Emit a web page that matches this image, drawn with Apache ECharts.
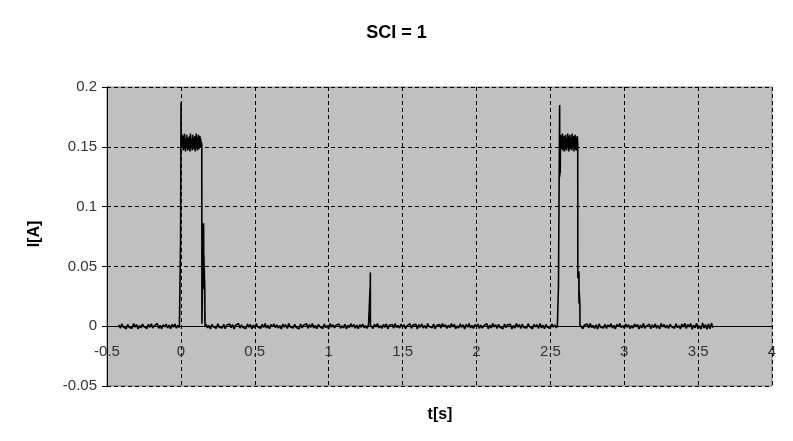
<!DOCTYPE html>
<html>
<head>
<meta charset="utf-8">
<script src="https://cdn.jsdelivr.net/npm/echarts@6/dist/echarts.min.js"></script>
<style>html,body{margin:0;padding:0;background:#fff;}#chart{width:793px;height:441px;}</style>
</head>
<body>
<div id="chart"></div>
<script>
// ---- data ----
const titleText = 'SCI = 1';
const xName = 't[s]';
const yName = 'I[A]';
const xTicks = [-0.5, 0, 0.5, 1, 1.5, 2, 2.5, 3, 3.5, 4];
const yTicks = [-0.05, 0, 0.05, 0.1, 0.15, 0.2];

// baseline noise segments (sampled every 0.01 s)
const noiseStep = 0.01;
const noiseA_start = -0.42;
const noiseA = [0.0012,-0.0017,0.0019,-0.0006,0.0009,-0.0021,0.0015,-0.0011,0.0005,-0.0018,0.0022,-0.0008,0.0014,-0.0023,0.0006,-0.0014,0.0018,-0.0004,0.0011,-0.0019,0.0016,-0.0009,0.0021,-0.0015,0.0003,-0.0012,0.0023,-0.0018,0.0008,-0.0022,0.0013,-0.0005,0.0018,-0.0014,0.0009,-0.0021,0.0015,-0.0008,0.0019,-0.0016,0.0006,-0.0011];
const noiseB_start = 0.17;
const noiseB = [0.0018,-0.0014,0.0006,-0.0022,0.0015,-0.0005,0.0011,-0.0018,0.0021,-0.0009,
0.0003,-0.0015,0.0016,-0.0021,0.0009,-0.0006,0.0019,-0.0012,0.0014,-0.0023,
0.0008,-0.0003,0.0022,-0.0016,0.0012,-0.0011,0.0005,-0.0019,0.0018,-0.0008,
0.0015,-0.0022,0.0009,-0.0014,0.0021,-0.0005,0.0003,-0.0018,0.0016,-0.0011,
0.0023,-0.0015,0.0006,-0.0021,0.0014,-0.0003,0.0019,-0.0012,0.0011,-0.0016,
0.0005,-0.0023,0.0018,-0.0008,0.0012,-0.0019,0.0022,-0.0006,0.0009,-0.0014,
0.0016,-0.0011,0.0003,-0.0022,0.0019,-0.0015,0.0008,-0.0005,0.0021,-0.0018,
0.0014,-0.0009,0.0023,-0.0016,0.0006,-0.0021,0.0015,-0.0003,0.0011,-0.0019,
0.0018,-0.0012,0.0005,-0.0023,0.0022,-0.0008,0.0012,-0.0015,0.0009,-0.0006,
0.0019,-0.0018,0.0003,-0.0014,0.0016,-0.0022,0.0008,-0.0011,0.0021,-0.0005,
0.0015,-0.0016,0.0009,-0.0021,0.0012,-0.0009,0.0018,-0.0014,0.0006,-0.0019,0.0014];
const noiseC_start = 1.29;
const noiseC = [0.0011,-0.0019,0.0016,-0.0006,0.0022,-0.0014,0.0005,-0.0018,0.0015,-0.0009,
0.0019,-0.0022,0.0008,-0.0003,0.0014,-0.0016,0.0023,-0.0011,0.0006,-0.0015,
0.0018,-0.0008,0.0012,-0.0021,0.0003,-0.0012,0.0021,-0.0018,0.0009,-0.0005,
0.0016,-0.0023,0.0014,-0.0009,0.0019,-0.0015,0.0006,-0.0019,0.0022,-0.0003,
0.0009,-0.0014,0.0018,-0.0022,0.0005,-0.0011,0.0015,-0.0016,0.0023,-0.0006,
0.0012,-0.0018,0.0008,-0.0012,0.0021,-0.0005,0.0016,-0.0021,0.0003,-0.0015,
0.0019,-0.0009,0.0011,-0.0023,0.0015,-0.0008,0.0022,-0.0014,0.0006,-0.0018,
0.0014,-0.0003,0.0018,-0.0019,0.0009,-0.0016,0.0005,-0.0011,0.0021,-0.0022,
0.0008,-0.0015,0.0023,-0.0006,0.0012,-0.0018,0.0016,-0.0009,0.0003,-0.0021,
0.0019,-0.0012,0.0011,-0.0005,0.0015,-0.0023,0.0006,-0.0016,0.0022,-0.0008,
0.0014,-0.0019,0.0018,-0.0011,0.0005,-0.0015,0.0021,-0.0003,0.0009,-0.0022,
0.0016,-0.0006,0.0012,-0.0018,0.0023,-0.0014,0.0008,-0.0021,0.0015,-0.0009,
0.0003,-0.0016,0.0019,-0.0008,0.0011,-0.0014];
const noiseD_start = 2.71;
const noiseD = [0.0015,-0.0021,0.0009,-0.0005,0.0018,-0.0015,0.0022,-0.0011,0.0006,-0.0018,
0.0012,-0.0023,0.0019,-0.0008,0.0003,-0.0014,0.0016,-0.0019,0.0011,-0.0006,
0.0021,-0.0016,0.0008,-0.0022,0.0014,-0.0003,0.0023,-0.0012,0.0005,-0.0018,
0.0018,-0.0009,0.0012,-0.0021,0.0006,-0.0015,0.0019,-0.0005,0.0015,-0.0023,
0.0009,-0.0014,0.0022,-0.0018,0.0003,-0.0008,0.0016,-0.0021,0.0011,-0.0011,
0.0019,-0.0016,0.0006,-0.0022,0.0023,-0.0006,0.0014,-0.0015,0.0008,-0.0019,
0.0016,-0.0003,0.0011,-0.0018,0.0021,-0.0012,0.0005,-0.0023,0.0018,-0.0009,
0.0024,-0.0019,0.0015,-0.0006,0.0022,-0.0026,0.0008,-0.0014,0.0025,-0.0021,
0.0003,-0.0024,0.0027,-0.0015,0.0013,-0.0025,0.0018,-0.0022,0.0026,-0.0012];

// pulse plateaus (sampled every 0.0025 s)
const plateauStep = 0.0025;
const plateau1_start = 0.004;
const plateau1 = [0.158,0.149,0.160,0.151,0.156,0.147,0.159,0.152,0.161,0.148,
0.155,0.146,0.157,0.150,0.160,0.149,0.154,0.147,0.158,0.151,
0.156,0.148,0.159,0.146,0.161,0.152,0.155,0.149,0.157,0.147,
0.160,0.150,0.158,0.148,0.156,0.151,0.159,0.146,0.157,0.149,
0.161,0.150,0.155,0.147,0.158,0.152,0.160,0.148,0.156,0.150,
0.159,0.149,0.157,0.151,0.154];
const plateau2_start = 2.570;
const plateau2 = [0.152,0.160,0.148,0.158,0.150,0.161,0.147,0.157,0.149,0.159,
0.146,0.156,0.151,0.160,0.148,0.155,0.147,0.158,0.150,0.161,
0.149,0.157,0.146,0.159,0.152,0.160,0.148,0.156,0.150,0.158,
0.147,0.161,0.149,0.157,0.151,0.159,0.146,0.155,0.150,0.160,
0.148,0.158,0.147,0.156,0.151,0.159,0.153];

// edges and spikes as [t, I] pairs
const rise1 = [[-0.004,0.0005],[-0.002,0.073],[0.000,0.074],[0.001,0.187],[0.002,0.150]];
const fall1 = [[0.1415,0.151],[0.1425,0.002],[0.1525,0.001],[0.153,0.086],[0.1535,0.034],[0.154,0.083],[0.1545,0.031],[0.155,0.060],[0.162,0.030],[0.1625,0.004],[0.163,0.012],[0.1635,0.0]];
const spike = [[1.279,0.0005],[1.2805,0.033],[1.281,0.003],[1.2815,0.033],[1.282,0.045],[1.2825,0.001],[1.285,-0.0004]];
const rise2 = [[2.548,0.0008],[2.554,0.0003],[2.555,0.033],[2.562,0.034],[2.563,0.185],[2.564,0.125],[2.5645,0.158],[2.565,0.130],[2.566,0.155],[2.567,0.128],[2.568,0.150]];
const fall2 = [[2.6855,0.150],[2.686,0.047],[2.6865,0.040],[2.693,0.046],[2.6935,0.019],[2.694,0.044],[2.6945,0.020],[2.695,0.030],[2.700,0.019],[2.7005,0.001],[2.704,0.0005]];

// ---- assemble the sampled trace ----
function sampled(start, step, vals) {
  return vals.map((v, i) => [+(start + i * step).toFixed(4), v]);
}
const trace = [].concat(
  sampled(noiseA_start, noiseStep, noiseA),
  rise1,
  sampled(plateau1_start, plateauStep, plateau1),
  fall1,
  sampled(noiseB_start, noiseStep, noiseB),
  spike,
  sampled(noiseC_start, noiseStep, noiseC),
  rise2,
  sampled(plateau2_start, plateauStep, plateau2),
  fall2,
  sampled(noiseD_start, noiseStep, noiseD)
);

const FONT = '"Liberation Sans", Arial, sans-serif';
const chart = echarts.init(document.getElementById('chart'), null, {renderer: 'canvas'});
chart.setOption({
  animation: false,
  backgroundColor: '#ffffff',
  title: {
    text: titleText, left: 'center', top: 19,
    textStyle: {fontFamily: FONT, fontSize: 18, fontWeight: 'bold', color: '#000'}
  },
  grid: {
    left: 107, right: 21, top: 87, bottom: 55,
    show: true, backgroundColor: '#c0c0c0', borderColor: '#808080', borderWidth: 1
  },
  xAxis: {
    type: 'value', min: xTicks[0], max: xTicks[xTicks.length - 1], interval: 0.5,
    axisLine: {show: true, onZero: true, lineStyle: {color: '#000', width: 1}},
    axisTick: {show: false},
    axisLabel: {margin: -42, fontFamily: FONT, fontSize: 15, color: '#333', showMinLabel: true, showMaxLabel: true},
    splitLine: {show: true, lineStyle: {color: '#000', type: [4, 3], width: 1}}
  },
  yAxis: {
    type: 'value', min: yTicks[0], max: yTicks[yTicks.length - 1], interval: 0.05,
    axisLine: {show: true, onZero: false, lineStyle: {color: '#000', width: 1}},
    axisTick: {show: true, inside: false, length: 5, lineStyle: {color: '#000'}},
    axisLabel: {margin: 10, fontFamily: FONT, fontSize: 15, color: '#333'},
    splitLine: {show: true, lineStyle: {color: '#000', type: [4, 3], width: 1}}
  },
  graphic: [
    {type: 'text', x: 440, y: 415, style: {text: xName, font: 'bold 16px ' + FONT, fill: '#000', align: 'center', verticalAlign: 'middle'}},
    {type: 'text', x: 35, y: 234, rotation: Math.PI / 2, style: {text: yName, font: 'bold 16px ' + FONT, fill: '#000', align: 'center', verticalAlign: 'middle'}}
  ],
  series: [{
    type: 'line', data: trace, showSymbol: false, symbol: 'none', sampling: null,
    lineStyle: {color: '#000', width: 1.6}, silent: true
  }]
});
</script>
</body>
</html>
